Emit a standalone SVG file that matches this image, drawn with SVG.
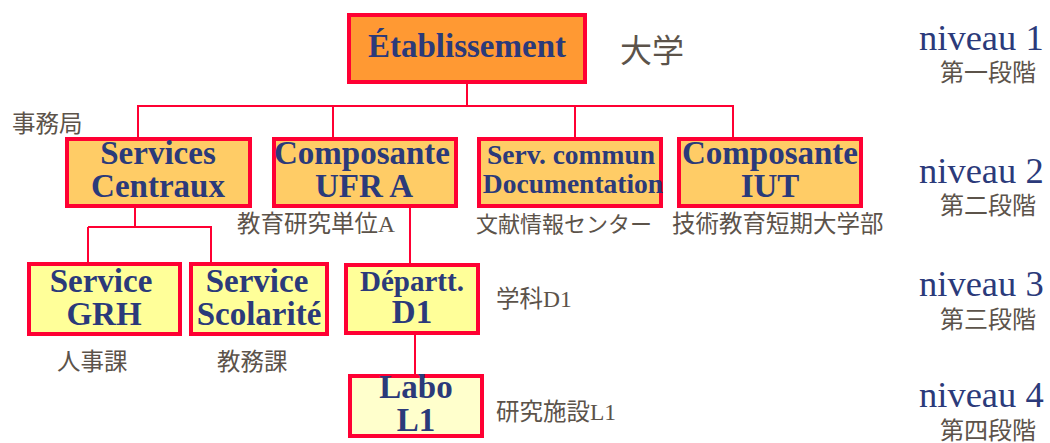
<svg xmlns="http://www.w3.org/2000/svg" width="1050" height="443" viewBox="0 0 1050 443">
<style>
.box{stroke:#FF0033;stroke-width:4}
.l1{fill:#FF9933}
.l2{fill:#FFCC66}
.l3{fill:#FFFF99}
.l4{fill:#FFFFCC}
.bt{font-family:"Liberation Serif","Times New Roman",serif;font-weight:bold;fill:#2B3A7A;text-anchor:middle}
.jp{font-family:"Liberation Serif","Noto Sans CJK JP",sans-serif;fill:#5C534A;font-size:23.5px}
.nv{font-family:"Liberation Serif","Times New Roman",serif;fill:#2B3A7A;font-size:36.5px}
.ln{stroke:#FF0033;fill:none;stroke-width:2}
</style>
<rect width="1050" height="443" fill="#FFFFFF"/>
<g id="connectors">
<line class="ln" x1="467" y1="83" x2="467" y2="107" stroke-width="4"/>
<line class="ln" x1="137" y1="106" x2="734" y2="106"/>
<line class="ln" x1="138" y1="106" x2="138" y2="137"/>
<line class="ln" x1="333" y1="106" x2="333" y2="137"/>
<line class="ln" x1="575" y1="106" x2="575" y2="137"/>
<line class="ln" x1="733" y1="106" x2="733" y2="137"/>
<line class="ln" x1="135" y1="207" x2="135" y2="227"/>
<line class="ln" x1="88" y1="227" x2="212" y2="227"/>
<line class="ln" x1="88" y1="227" x2="88" y2="262"/>
<line class="ln" x1="211" y1="227" x2="211" y2="262"/>
<line class="ln" x1="410" y1="207" x2="410" y2="263"/>
<line class="ln" x1="415" y1="334" x2="415" y2="374"/>
</g>
<g id="etablissement">
<rect class="box l1" x="349" y="15" width="236" height="67"/>
<text class="bt" x="467" y="57" font-size="33">Établissement</text>
<text class="jp" x="620" y="62" style="font-size:32px">大学</text>
</g>
<g id="services-centraux">
<rect class="box l2" x="67" y="139" width="183" height="67"/>
<text class="bt" x="158" y="164" font-size="33">Services</text>
<text class="bt" x="158" y="197" font-size="33">Centraux</text>
<text class="jp" x="12" y="132">事務局</text>
</g>
<g id="composante-ufr">
<rect class="box l2" x="274" y="139" width="182" height="67"/>
<text class="bt" x="362" y="164" font-size="33">Composante</text>
<text class="bt" x="364" y="197" font-size="33">UFR A</text>
<text class="jp" x="237" y="232">教育研究単位A</text>
</g>
<g id="serv-commun">
<rect class="box l2" x="479" y="139" width="182" height="67"/>
<text class="bt" x="571" y="164" font-size="27.5">Serv. commun</text>
<text class="bt" x="573" y="193" font-size="27.5">Documentation</text>
<text class="jp" x="476" y="232" style="font-size:22px">文献情報センター</text>
</g>
<g id="composante-iut">
<rect class="box l2" x="679" y="139" width="182" height="67"/>
<text class="bt" x="770" y="164" font-size="33">Composante</text>
<text class="bt" x="770" y="197" font-size="33">IUT</text>
<text class="jp" x="672" y="232">技術教育短期大学部</text>
</g>
<g id="service-grh">
<rect class="box l3" x="29" y="264" width="151" height="70"/>
<text class="bt" x="101" y="292" font-size="33">Service</text>
<text class="bt" x="104" y="325" font-size="33">GRH</text>
<text class="jp" x="57" y="370">人事課</text>
</g>
<g id="service-scolarite">
<rect class="box l3" x="191" y="264" width="136" height="70"/>
<text class="bt" x="257" y="292" font-size="33">Service</text>
<text class="bt" x="259" y="325" font-size="33">Scolarité</text>
<text class="jp" x="217" y="370">教務課</text>
</g>
<g id="departement-d1">
<rect class="box l3" x="346" y="265" width="132" height="68"/>
<text class="bt" x="412" y="291" font-size="29">Départt.</text>
<text class="bt" x="412" y="323" font-size="33">D1</text>
<text class="jp" x="496" y="307">学科D1</text>
</g>
<g id="labo-l1">
<rect class="box l4" x="350" y="376" width="132" height="60"/>
<text class="bt" x="416" y="398" font-size="33">Labo</text>
<text class="bt" x="416" y="431" font-size="33">L1</text>
<text class="jp" x="496" y="420">研究施設L1</text>
</g>
<g id="levels">
<text class="nv" x="919" y="50">niveau 1</text>
<text class="jp" x="940" y="81" style="font-size:24px">第一段階</text>
<text class="nv" x="919" y="183">niveau 2</text>
<text class="jp" x="940" y="214" style="font-size:24px">第二段階</text>
<text class="nv" x="919" y="296">niveau 3</text>
<text class="jp" x="940" y="328" style="font-size:24px">第三段階</text>
<text class="nv" x="919" y="407">niveau 4</text>
<text class="jp" x="940" y="439" style="font-size:24px">第四段階</text>
</g>
</svg>
